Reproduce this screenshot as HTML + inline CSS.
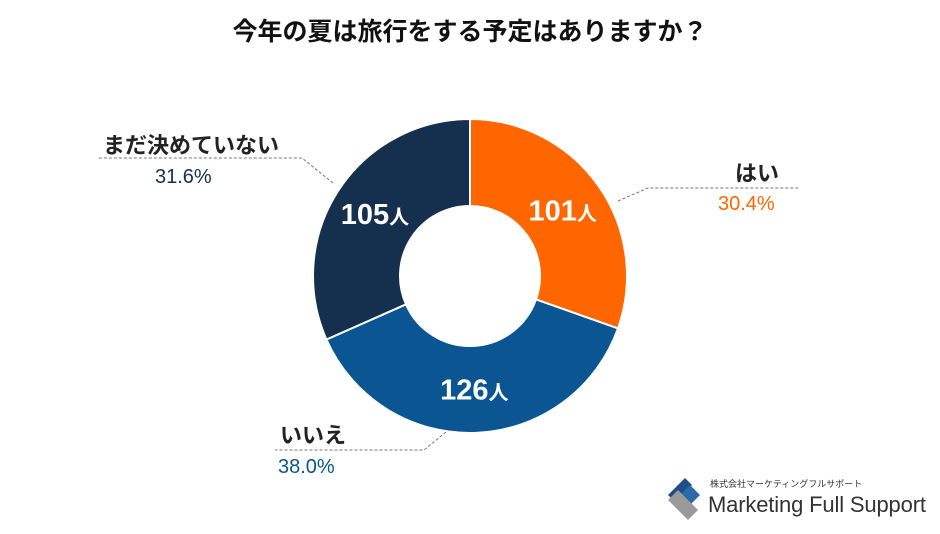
<!DOCTYPE html>
<html><head><meta charset="utf-8"><style>
body{margin:0;width:940px;height:529px;background:#fff;overflow:hidden;font-family:"Liberation Sans","Noto Sans CJK JP",sans-serif}
</style></head><body>
<svg width="940" height="529" viewBox="0 0 940 529">
<text x="470" y="40" text-anchor="middle" font-size="25" font-weight="bold" fill="#111">今年の夏は旅行をする予定はありますか？</text>
<g id="slices"></g>
<g id="labels"></g>
<g stroke="#777" stroke-width="1" stroke-dasharray="3,2" fill="none">
<polyline points="618,201 648,188 800,188"/>
<polyline points="446,432 424,450 275,450"/>
<polyline points="333,183 302,158 97,158"/>
</g>
<text x="735" y="181" font-size="22" font-weight="bold" fill="#222">はい</text>
<text x="718" y="210" font-size="20" fill="#ff6600">30.4%</text>
<text x="280" y="443" font-size="22" font-weight="bold" fill="#222">いいえ</text>
<text x="278" y="473" font-size="20" fill="#0a5592">38.0%</text>
<text x="103" y="153" font-size="22" font-weight="bold" fill="#222">まだ決めていない</text>
<text x="155" y="183" font-size="20" fill="#15304f">31.6%</text>
<g>
<polygon points="668,495 685,478 692,485 675,502" fill="#1d4f86"/>
<polygon points="680,495 690,485 700,495 690,505" fill="#2a6aa8"/>
<polygon points="668,500 678,490 698,510 688,520" fill="#9a9a9a"/>
<text x="710" y="487" font-size="9" fill="#333">株式会社マーケティングフルサポート</text>
<text x="708" y="512" font-size="22" fill="#333" textLength="218">Marketing Full Support</text>
</g>
</svg>
<script>
const categories=["はい","いいえ","まだ決めていない"];
const values=[101,126,105];
const colors=["#ff6600","#0a5592","#15304f"];
const cx=470,cy=276,R=157,r=70;
const ns="http://www.w3.org/2000/svg";
const total=values.reduce((a,b)=>a+b,0);
let a0=0;
const sg=document.getElementById('slices'),lg=document.getElementById('labels');
function pt(ang,rad){return [cx+rad*Math.sin(ang),cy-rad*Math.cos(ang)];}
values.forEach((v,i)=>{
 const a1=a0+v/total*2*Math.PI;
 const large=(a1-a0)>Math.PI?1:0;
 const [x1,y1]=pt(a0,R),[x2,y2]=pt(a1,R),[x3,y3]=pt(a1,r),[x4,y4]=pt(a0,r);
 const p=document.createElementNS(ns,'path');
 p.setAttribute('d',`M${x1},${y1}A${R},${R} 0 ${large} 1 ${x2},${y2}L${x3},${y3}A${r},${r} 0 ${large} 0 ${x4},${y4}Z`);
 p.setAttribute('fill',colors[i]);p.setAttribute('stroke','#fff');p.setAttribute('stroke-width','2');
 
 
 sg.appendChild(p);
 const m=(a0+a1)/2;const [lx,ly]=pt(m,(R+r)/2);
 const t=document.createElementNS(ns,'text');
 t.setAttribute('x',lx);t.setAttribute('y',ly+10);t.setAttribute('text-anchor','middle');
 t.setAttribute('fill','#fff');t.setAttribute('font-size','29');t.setAttribute('font-weight','bold');
 t.innerHTML=v+'<tspan font-size="20">人</tspan>';
 
 
 lg.appendChild(t);
 a0=a1;
});
</script>
</body></html>
